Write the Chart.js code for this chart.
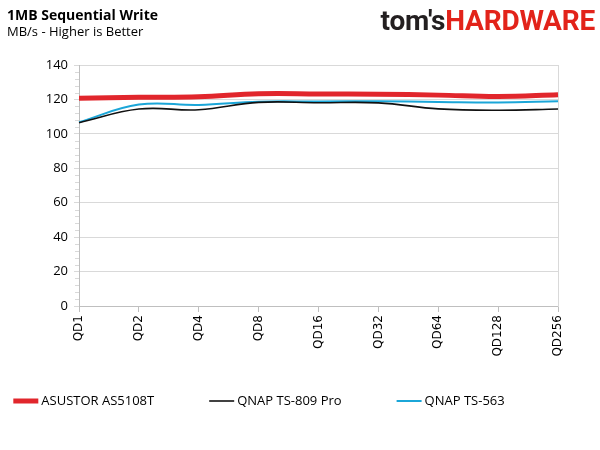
<!DOCTYPE html>
<html>
<head>
<meta charset="utf-8">
<script src="https://cdn.jsdelivr.net/npm/chart.js@4"></script>
<style>
  html, body { margin: 0; padding: 0; background: #fff; }
  #wrap { position: relative; width: 600px; height: 450px; }
  #title { position: absolute; left: 7px; top: 5px; font: bold 14px "Open Sans", sans-serif; color: #000; }
  #sub { position: absolute; left: 7px; top: 22px; font: 13px "Open Sans", sans-serif; color: #000; }
  #logo { position: absolute; right: 5px; top: 4px; font: bold 28px Roboto, sans-serif; letter-spacing: -0.2px; }
  #logo .a { color: #231f20; }
  #logo .b { color: #e2231a; }
</style>
</head>
<body>
<div id="wrap">
  <canvas id="chart" width="600" height="450"></canvas>
  <div id="title">1MB Sequential Write</div>
  <div id="sub">MB/s - Higher is Better</div>
  <div id="logo"><span class="a">tom's</span><span class="b">HARDWARE</span></div>
</div>
<script>
// ラベルと値
const queueDepths = ['QD1', 'QD2', 'QD4', 'QD8', 'QD16', 'QD32', 'QD64', 'QD128', 'QD256'];
const asustor = [120.7, 121.2, 121.5, 123.3, 123.2, 123.0, 122.5, 121.7, 122.7];
const qnap809 = [106.5, 114.4, 114.0, 118.3, 118.1, 118.0, 114.5, 113.7, 114.4];
const qnap563 = [106.8, 117.0, 116.8, 118.7, 118.8, 118.9, 118.5, 118.2, 118.9];
const yTicks = [0, 20, 40, 60, 80, 100, 120, 140];
const yMinorStep = 4;

// 凡例（キャンバスに直接描画）
const lineLegend = {
  id: 'lineLegend',
  afterDraw(chart) {
    const c = chart.ctx;
    const gap = 55, lineLen = 25, y = 401;
    c.save();
    c.font = '13px "Open Sans"';
    c.textBaseline = 'middle';
    const items = chart.data.datasets.map(ds => ({
      ds, w: lineLen + 3 + c.measureText(ds.label).width
    }));
    const total = items.reduce((s, it) => s + it.w, 0) + gap * (items.length - 1);
    let x = 259 - total / 2;
    items.forEach(({ ds, w }) => {
      c.strokeStyle = ds.borderColor;
      c.lineWidth = ds.borderWidth;
      c.beginPath();
      c.moveTo(x, y);
      c.lineTo(x + lineLen, y);
      c.stroke();
      c.fillStyle = '#000';
      c.fillText(ds.label, x + lineLen + 3, y);
      x += w + gap;
    });
    c.restore();
  }
};

// Y軸の補助目盛り
const minorTicks = {
  id: 'minorTicks',
  afterDraw(chart) {
    const s = chart.scales.y, c = chart.ctx;
    c.save();
    c.strokeStyle = '#d9d9d9';
    c.lineWidth = 1;
    for (let v = s.min; v <= s.max; v += yMinorStep) {
      if (v % 20 === 0) continue;
      const py = Math.round(s.getPixelForValue(v)) + 0.5;
      c.beginPath();
      c.moveTo(s.right - 4, py);
      c.lineTo(s.right, py);
      c.stroke();
    }
    c.restore();
  }
};

const ctx = document.getElementById('chart').getContext('2d');
new Chart(ctx, {
  type: 'line',
  data: {
    labels: queueDepths,
    datasets: [
      { label: 'ASUSTOR AS5108T', data: asustor, borderColor: '#e1262c', borderWidth: 5 },
      { label: 'QNAP TS-809 Pro', data: qnap809, borderColor: '#111111', borderWidth: 1.6 },
      { label: 'QNAP TS-563', data: qnap563, borderColor: '#1ba6d8', borderWidth: 2 }
    ]
  },
  options: {
    responsive: false,
    animation: false,
    layout: { padding: { top: 65, right: 34, left: 0, bottom: 84 } },
    elements: {
      point: { radius: 0 },
      line: { tension: 0.4 }
    },
    plugins: {
      legend: { display: false },
      tooltip: { enabled: false }
    },
    scales: {
      x: {
        grid: { drawOnChartArea: false, drawTicks: true, tickLength: 6, color: '#bfbfbf' },
        border: { color: '#bfbfbf' },
        ticks: {
          maxRotation: 90, minRotation: 90,
          font: { family: 'DejaVu Sans', size: 12 },
          color: '#000'
        },
        afterFit: scale => { scale.height = 60; }
      },
      y: {
        min: 0, max: 140,
        afterBuildTicks: scale => { scale.ticks = yTicks.map(v => ({ value: v })); },
        grid: { color: '#d9d9d9', tickLength: 5 },
        border: { color: '#bfbfbf' },
        ticks: {
          font: { family: 'Open Sans', size: 13 },
          color: '#000',
          padding: 6
        },
        afterFit: scale => { scale.width = 79; }
      },
      y2: {
        position: 'right',
        min: 0, max: 140,
        grid: { display: false },
        ticks: { display: false },
        border: { color: '#d9d9d9' }
      }
    }
  },
  plugins: [lineLegend, minorTicks]
});
</script>
</body>
</html>
